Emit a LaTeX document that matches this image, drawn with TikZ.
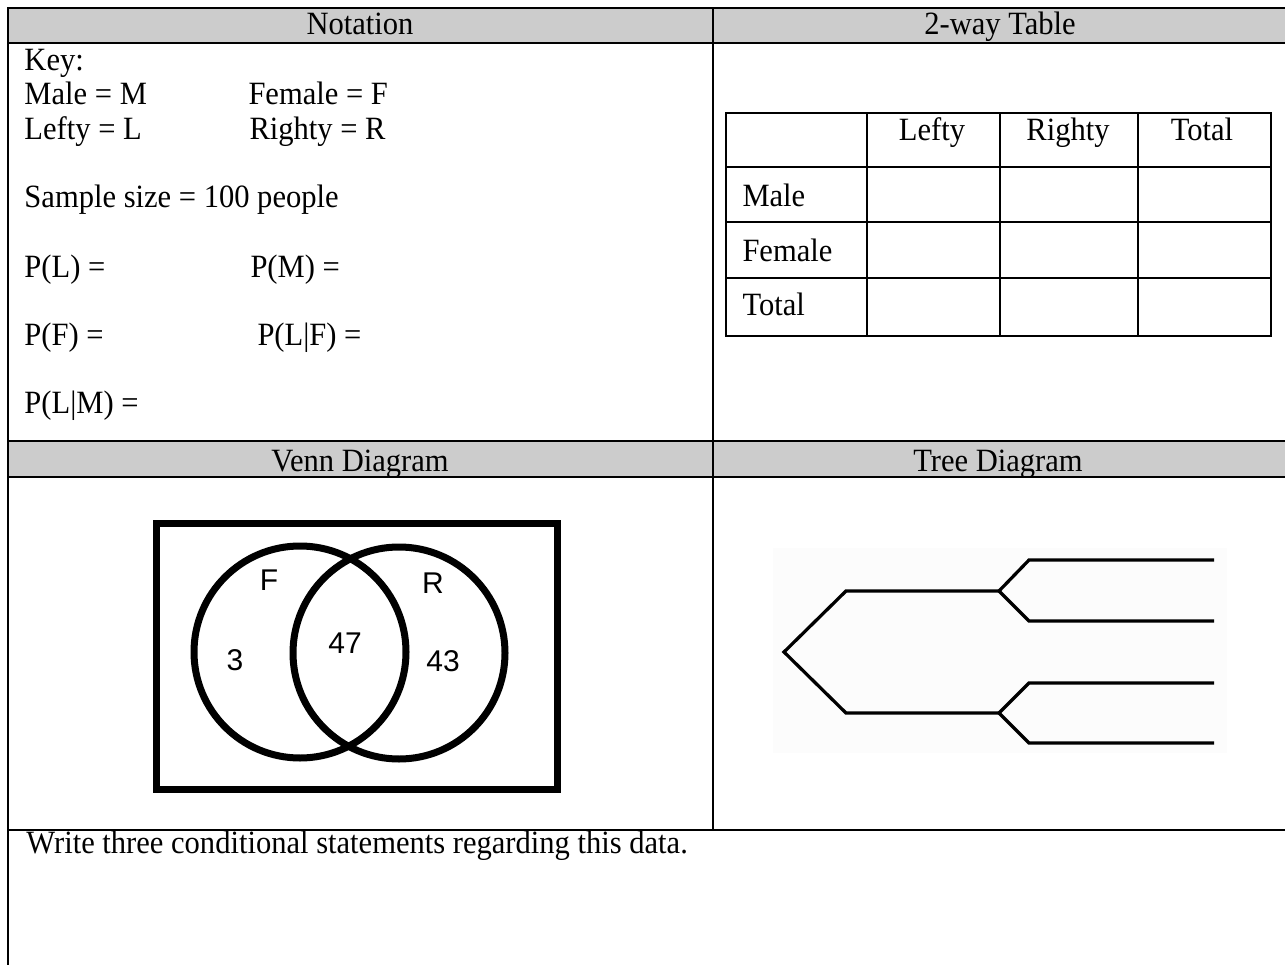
\documentclass[tikz,border=0pt]{standalone}
\usepackage{fontspec}
\setmainfont[FakeStretch=0.94]{Liberation Serif}
\newfontfamily\vennfont{Liberation Sans}
\usetikzlibrary{positioning}
\tikzset{>=latex}
\tikzset{hdr/.style = {fill=black!20, draw=none}}
\tikzset{rule/.style = {line width=0.8pt}}
\tikzset{lbl/.style = {draw=none, inner sep=0, anchor=base west}}
\tikzset{cell/.style = {draw=none, inner sep=0, anchor=base}}
\tikzset{vlbl/.style = {draw=none, inner sep=0, font=\vennfont\fontsize{12}{14}\selectfont}}
\tikzset{venn/.style = {line width=2.8pt}}
\tikzset{branch/.style = {line width=1.3pt}}

\begin{document}
\begin{tikzpicture}[x=0.4pt, y=-0.4pt, font=\fontsize{13}{15}\selectfont]
\useasboundingbox (0,0) rectangle (1285,965);
%\fill [white] (0,0) rectangle (1285,965);
\fill [hdr] (8,8) rectangle (1290,43);
\fill [hdr] (8,441) rectangle (1290,477);
\draw [rule] (8,970) -- (8,8) -- (1290,8);
\draw [rule] (8,43) -- (1290,43);
\draw [rule] (8,441) -- (1290,441);
\draw [rule] (8,477) -- (1290,477);
\draw [rule] (8,830) -- (1290,830);
\draw [rule] (713,8) -- (713,830);

\node [cell] (Notation) at (360,35) {Notation};
\node [cell] (Table) at (1000,35) {2-way Table};
\node [cell] (Venn) at (360,471) {Venn Diagram};
\node [cell] (Tree) at (998,471) {Tree Diagram};

\node [lbl] (Key) at (24,71) {Key:};
\node [lbl] (Male) at (24,105) {Male = M};
\node [lbl] (Female) at (248,105) {Female = F};
\node [lbl] (Lefty) at (24,140) {Lefty = L};
\node [lbl] (Righty) at (249,140) {Righty = R};
\node [lbl] (N) at (24,208) {Sample size = 100 people};
\node [lbl] (PL) at (24,277) {P(L) =};
\node [lbl] (PM) at (250,277) {P(M) =};
\node [lbl] (PF) at (24,345) {P(F) =};
\node [lbl] (PLF) at (257,345) {P(L|F) =};
\node [lbl] (PLM) at (24,413) {P(L|M) =};

\draw [rule] (726,113) rectangle (1271,336);
\draw [rule] (726,167) -- (1271,167);
\draw [rule] (726,222) -- (1271,222);
\draw [rule] (726,278) -- (1271,278);
\draw [rule] (867,113) -- (867,336);
\draw [rule] (1000,113) -- (1000,336);
\draw [rule] (1138,113) -- (1138,336);
\node [cell] (L) at (932,141) {Lefty};
\node [cell] (R) at (1068,141) {Righty};
\node [cell] (T) at (1202,141) {Total};
\node [lbl] (M) at (742,207) {Male};
\node [lbl] (F) at (742,262) {Female};
\node [lbl] (S) at (742,315) {Total};

\draw [venn] (156.5,523.5) rectangle (557.5,789.5);
\draw [venn] (300,652) circle [radius=106];
\draw [venn] (399,653) circle [radius=106];
\node [vlbl] (VF) at (269,580) {F};
\node [vlbl] (VR) at (433,583) {R};
\node [vlbl] (V1) at (235,660) {3};
\node [vlbl] (V2) at (345,643) {47};
\node [vlbl] (V3) at (443,661) {43};

\fill [black!1] (773,548) rectangle (1227,753);
\coordinate (T0) at (784,652);
\coordinate (T1) at (846,591);
\coordinate (T2) at (999,591);
\coordinate (T3) at (846,713);
\coordinate (T4) at (999,713);
\coordinate (T5) at (1029,560);
\coordinate (T6) at (1214,560);
\coordinate (T7) at (1029,621);
\coordinate (T8) at (1214,621);
\coordinate (T9) at (1029,683);
\coordinate (T10) at (1214,683);
\coordinate (T11) at (1029,743);
\coordinate (T12) at (1214,743);
\draw [branch] (T2) -- (T1) -- (T0) -- (T3) -- (T4);
\draw [branch] (T6) -- (T5) -- (T2) -- (T7) -- (T8);
\draw [branch] (T10) -- (T9) -- (T4) -- (T11) -- (T12);

\node [lbl] (Q) at (26,853) {Write three conditional statements regarding this data.};
\end{tikzpicture}
\end{document}
